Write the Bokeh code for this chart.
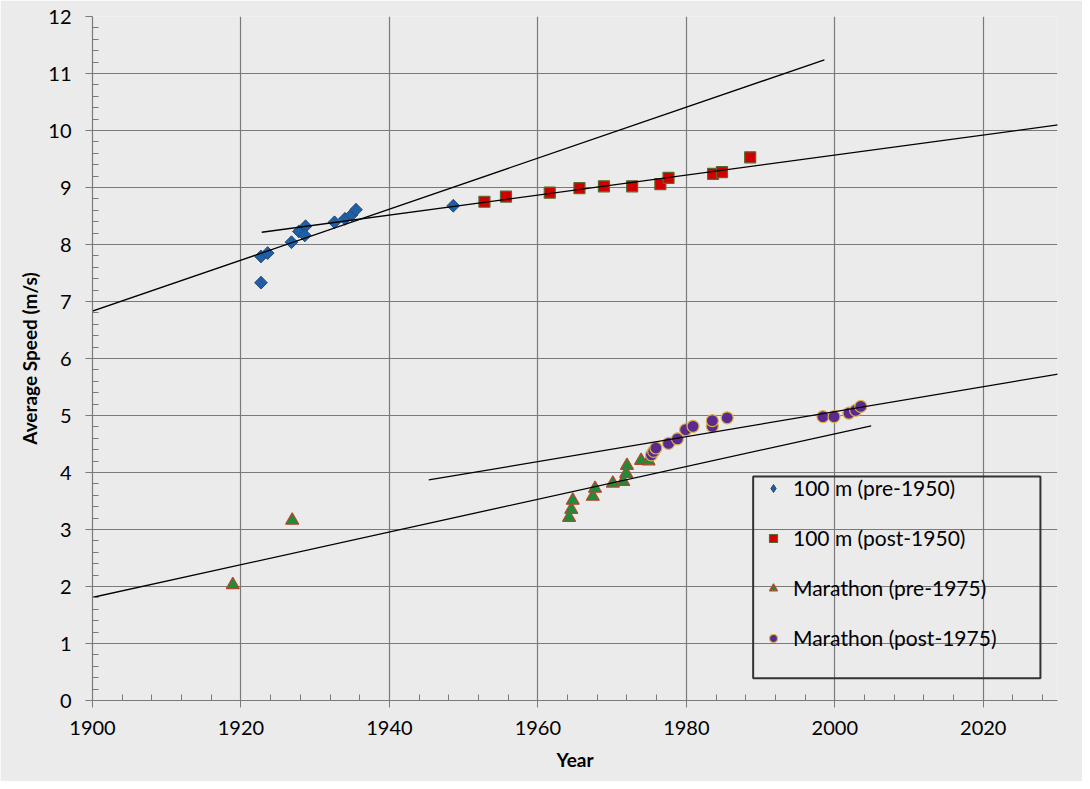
import numpy as np
from bokeh.plotting import figure
from bokeh.models import Range1d, Legend, LegendItem, BoxAnnotation, FixedTicker
from bokeh.embed import file_html
from bokeh.resources import INLINE

FONT = "Lato"

# ---------------- data ----------------
sprint_pre_year = [1922.7, 1922.7, 1923.6, 1926.8, 1927.8, 1928.7, 1928.6,
                   1932.6, 1934.0, 1934.9, 1935.5, 1948.6]
sprint_pre_speed = [7.33, 7.79, 7.85, 8.04, 8.23, 8.32, 8.16,
                    8.39, 8.45, 8.52, 8.61, 8.68]

sprint_post_year = [1952.8, 1955.7, 1961.6, 1965.6, 1968.9, 1972.7, 1976.5,
                    1977.6, 1983.6, 1984.8, 1988.6]
sprint_post_speed = [8.75, 8.84, 8.91, 8.99, 9.02, 9.02, 9.06,
                     9.17, 9.24, 9.27, 9.53]

mara_pre_year = [1918.9, 1926.9, 1964.2, 1964.5, 1964.7, 1967.4, 1967.7,
                 1970.1, 1971.5, 1971.9, 1972.0, 1973.9, 1974.9]
mara_pre_speed = [2.03, 3.16, 3.21, 3.35, 3.51, 3.58, 3.72,
                  3.81, 3.84, 3.98, 4.12, 4.21, 4.20]

mara_post_year = [1975.3, 1975.6, 1975.9, 1977.6, 1978.8, 1979.9, 1980.9,
                  1983.5, 1983.5, 1985.5, 1998.4, 1999.9, 2001.9, 2002.8, 2003.5]
mara_post_speed = [4.31, 4.37, 4.43, 4.51, 4.59, 4.75, 4.81,
                   4.81, 4.91, 4.96, 4.98, 4.98, 5.04, 5.09, 5.16]

series_labels = ["100 m (pre-1950)", "100 m (post-1950)",
                 "Marathon (pre-1975)", "Marathon (post-1975)"]

# trendline forecast (years backward, years forward), as in the spreadsheet
trend_back = [23, 30, 20, 30]
trend_fwd = [50, 80, 30, 30]

x_ticks = [1900, 1920, 1940, 1960, 1980, 2000, 2020]
x_minor = [y for y in range(1904, 2030, 4) if y % 20 != 0]
y_ticks = list(range(0, 13))
y_minor = [round(v * 0.2, 1) for v in range(0, 61) if v % 5 != 0]

# ---------------- figure ----------------
BG = "#ebebeb"
GRID = "#7a7a7a"

p = figure(width=1082, height=781,
           x_range=Range1d(1900, 2030), y_range=Range1d(0, 12),
           output_backend="svg", toolbar_location=None,
           min_border_left=92, min_border_right=25,
           min_border_top=16, min_border_bottom=81)
p.background_fill_color = BG
p.border_fill_color = BG
p.outline_line_color = None

p.xgrid.ticker = FixedTicker(ticks=x_ticks)
p.ygrid.ticker = FixedTicker(ticks=y_ticks)
for g in (p.xgrid, p.ygrid):
    g.grid_line_color = GRID
    g.grid_line_width = 1.2
    g.grid_line_alpha = 1.0

p.xaxis.ticker = FixedTicker(ticks=x_ticks, minor_ticks=x_minor)
p.yaxis.ticker = FixedTicker(ticks=y_ticks, minor_ticks=y_minor)
p.xaxis.axis_label = "Year"
p.yaxis.axis_label = "Average Speed (m/s)"
for ax in (p.xaxis, p.yaxis):
    ax.axis_line_color = GRID
    ax.axis_line_width = 1.2
    ax.major_tick_line_color = GRID
    ax.minor_tick_line_color = GRID
    ax.major_tick_out = 7
    ax.major_tick_in = 0
    ax.minor_tick_in = 6
    ax.minor_tick_out = 0
    ax.major_label_text_font = FONT
    ax.major_label_text_font_size = "20px"
    ax.major_label_text_color = "#000000"
    ax.axis_label_text_font = FONT
    ax.axis_label_text_font_size = "19px"
    ax.axis_label_text_font_style = "bold"
    ax.axis_label_text_color = "#000000"
p.xaxis.major_label_standoff = 13
p.yaxis.major_label_standoff = 14
p.xaxis.axis_label_standoff = 10
p.yaxis.axis_label_standoff = 4

# ---------------- markers ----------------
# diamond glyph (used for the legend key) sits under the rotated squares
r1 = p.scatter(sprint_pre_year, sprint_pre_speed, marker="diamond",
               size=12, fill_color="#1f5fa6", line_color="#2b4a75", line_width=1)
p.scatter(sprint_pre_year, sprint_pre_speed, marker="square", angle=np.pi / 4,
          size=9, fill_color="#1f5fa6", line_color="#2b4a75", line_width=1)
r2 = p.scatter(sprint_post_year, sprint_post_speed, marker="square",
               size=11, fill_color="#d00000", line_color="#556b2f", line_width=1.2)
r3 = p.scatter(mara_pre_year, mara_pre_speed, marker="triangle",
               size=13, fill_color="#1e8c3a", line_color="#b5452b", line_width=1.2)
r4 = p.scatter(mara_post_year, mara_post_speed, marker="circle",
               size=12, fill_color="#5b2a8e", line_color="#d9b34a", line_width=1.2)

# ---------------- linear trendlines ----------------
all_series = [(sprint_pre_year, sprint_pre_speed),
              (sprint_post_year, sprint_post_speed),
              (mara_pre_year, mara_pre_speed),
              (mara_post_year, mara_post_speed)]
for (xs, ys), back, fwd in zip(all_series, trend_back, trend_fwd):
    slope, icpt = np.polyfit(xs, ys, 1)
    x0 = min(xs) - back
    x1 = max(xs) + fwd
    p.line([x0, x1], [icpt + slope * x0, icpt + slope * x1],
           line_color="#000000", line_width=1.3)

# ---------------- legend ----------------
legend = Legend(items=[LegendItem(label=lab, renderers=[r])
                       for lab, r in zip(series_labels, [r1, r2, r3, r4])],
                location=(671, 50), orientation="vertical",
                border_line_alpha=0, background_fill_alpha=0,
                padding=0, margin=0, spacing=25,
                label_height=20, glyph_height=20, glyph_width=20,
                label_standoff=10,
                label_text_font=FONT, label_text_font_size="21px",
                label_text_color="#000000")
p.add_layout(legend, "center")

p.add_layout(BoxAnnotation(left=1989.0, right=2027.7, bottom=0.39, top=3.93,
                           fill_alpha=0, line_color="#333333", line_alpha=1.0,
                           line_width=2))

open("out.html", "w").write(file_html(p, INLINE))
